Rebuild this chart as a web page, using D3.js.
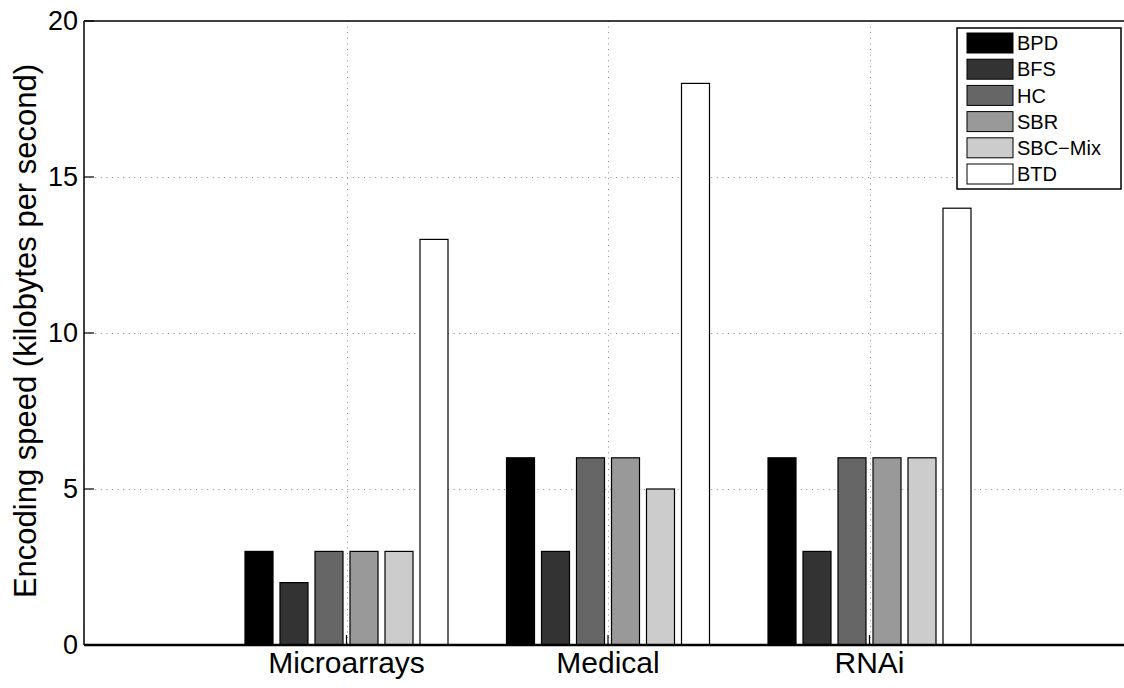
<!DOCTYPE html>
<html>
<head>
<meta charset="utf-8">
<script src="https://cdn.jsdelivr.net/npm/d3@7"></script>
<style>
  body { margin: 0; background: #fff; }
  text { font-family: "Liberation Sans", Arial, Helvetica, sans-serif; fill: #000; }
</style>
</head>
<body>
<script>
// data
const categories = ['Microarrays', 'Medical', 'RNAi'];
const methods = ['BPD', 'BFS', 'HC', 'SBR', 'SBC\u2212Mix', 'BTD'];
const fills = ['#000000', '#333333', '#666666', '#999999', '#cccccc', '#ffffff'];
const bpd = [3, 6, 6];
const bfs = [2, 3, 3];
const hc = [3, 6, 6];
const sbr = [3, 6, 6];
const sbcMix = [3, 5, 6];
const btd = [13, 18, 14];
const yTicks = [0, 5, 10, 15, 20];

const series = [bpd, bfs, hc, sbr, sbcMix, btd];

const W = 1124, H = 688;
const plotLeft = 84, plotTop = 21, plotBottom = 645;

const svg = d3.select('body').append('svg')
  .attr('width', W)
  .attr('height', H);

// groups sit at 1, 2, 3 on a continuous axis (matlab style xlim [0 4])
const x = d3.scaleLinear().domain([1, 3]).range([346.5, 869.5]);
const y = d3.scaleLinear().domain([0, 20]).range([plotBottom, plotTop]);

const pitch = 35, barW = 28;

// grid
const grid = svg.append('g').attr('stroke', '#888').attr('stroke-width', 1)
  .attr('stroke-dasharray', '1,4.6');
grid.selectAll('.gy').data(yTicks.filter(d => d > 0 && d < 20)).enter()
  .append('line')
  .attr('x1', plotLeft).attr('x2', W)
  .attr('y1', d => Math.round(y(d)) + 0.5).attr('y2', d => Math.round(y(d)) + 0.5);
grid.selectAll('.gx').data(categories).enter()
  .append('line')
  .attr('x1', (d, i) => Math.round(x(i + 1)) + 0.5).attr('x2', (d, i) => Math.round(x(i + 1)) + 0.5)
  .attr('y1', plotTop).attr('y2', plotBottom);

// bars
series.forEach((vals, s) => {
  svg.append('g').selectAll('rect').data(vals).enter()
    .append('rect')
    .attr('x', (d, i) => x(i + 1) + (s - 2.5) * pitch - barW / 2)
    .attr('y', d => y(d))
    .attr('width', barW)
    .attr('height', d => y(0) - y(d))
    .attr('fill', fills[s])
    .attr('stroke', '#000')
    .attr('stroke-width', 1.2);
});

// box and axes
svg.append('line').attr('x1', plotLeft).attr('x2', W).attr('y1', plotTop).attr('y2', plotTop)
  .attr('stroke', '#000').attr('stroke-width', 1.5);
svg.append('line').attr('x1', plotLeft).attr('x2', plotLeft).attr('y1', plotTop).attr('y2', plotBottom)
  .attr('stroke', '#000').attr('stroke-width', 1.5);
svg.append('line').attr('x1', plotLeft).attr('x2', W).attr('y1', plotBottom).attr('y2', plotBottom)
  .attr('stroke', '#000').attr('stroke-width', 2.5);

// ticks pointing inward
svg.append('g').selectAll('line').data(yTicks).enter()
  .append('line')
  .attr('x1', plotLeft).attr('x2', plotLeft + 10)
  .attr('y1', d => y(d)).attr('y2', d => y(d))
  .attr('stroke', '#000').attr('stroke-width', 1.2);
svg.append('g').selectAll('line').data(categories).enter()
  .append('line')
  .attr('x1', (d, i) => x(i + 1)).attr('x2', (d, i) => x(i + 1))
  .attr('y1', plotBottom).attr('y2', plotBottom - 10)
  .attr('stroke', '#000').attr('stroke-width', 1.2);

// tick labels
svg.append('g').selectAll('text').data(yTicks).enter()
  .append('text')
  .attr('x', plotLeft - 6)
  .attr('y', d => y(d))
  .attr('dy', '0.35em')
  .attr('text-anchor', 'end')
  .attr('font-size', 27)
  .text(d => d);
svg.append('g').selectAll('text').data(categories).enter()
  .append('text')
  .attr('x', (d, i) => x(i + 1))
  .attr('y', 673)
  .attr('text-anchor', 'middle')
  .attr('font-size', 30)
  .text(d => d);

svg.append('text')
  .attr('transform', 'translate(36,331) rotate(-90)')
  .attr('text-anchor', 'middle')
  .attr('font-size', 31)
  .text('Encoding speed (kilobytes per second)');

// legend
const lg = svg.append('g').attr('transform', 'translate(957,28)');
lg.append('rect').attr('width', 164).attr('height', 161)
  .attr('fill', '#fff').attr('stroke', '#000').attr('stroke-width', 1.5);
const rows = lg.selectAll('.row').data(methods).enter()
  .append('g')
  .attr('transform', (d, i) => 'translate(10,' + (5 + i * 26.2) + ')');
rows.append('rect').attr('width', 46).attr('height', 20)
  .attr('fill', (d, i) => fills[i]).attr('stroke', '#000').attr('stroke-width', 1);
rows.append('text').attr('x', 50).attr('y', 10).attr('dy', '0.36em')
  .attr('font-size', 20)
  .text(d => d);
</script>
</body>
</html>
